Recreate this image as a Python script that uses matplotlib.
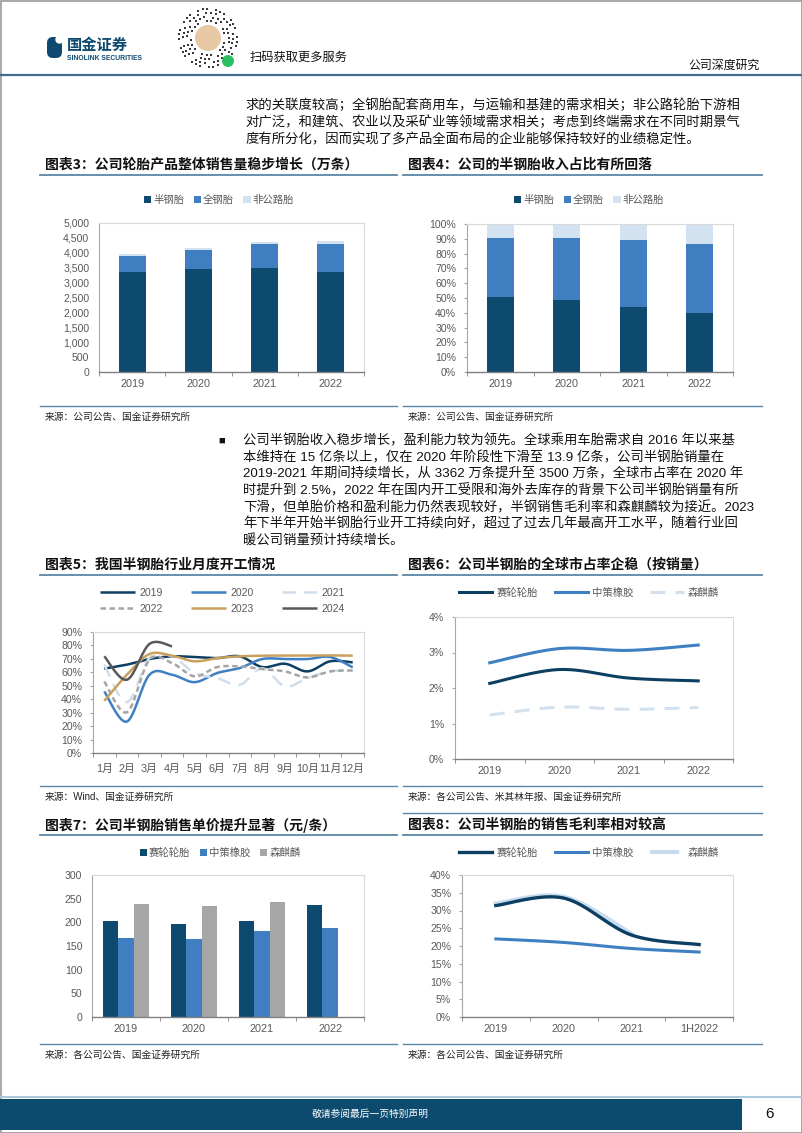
import numpy as np
import matplotlib
matplotlib.use("Agg")
import matplotlib.pyplot as plt
from matplotlib.patches import Rectangle, Circle, FancyBboxPatch
from matplotlib.lines import Line2D
from matplotlib.ticker import FuncFormatter

plt.rcParams['font.family'] = ['Liberation Sans', 'Noto Sans CJK SC', 'DejaVu Sans']

W, H = 802, 1133

NAVY = '#0E4A6F'
BLUE = '#3F7EC1'
LIGHT = '#D3E2F0'
GRAY_TXT = '#595959'
RULE = '#5A87A6'

# 图表3 / 图表4
years = ['2019', '2020', '2021', '2022']
semi_steel_vol = [3362, 3460, 3500, 3350]
all_steel_vol = [540, 640, 790, 950]
offroad_vol = [55, 55, 80, 100]
semi_steel_share = [50.5, 48.8, 44.0, 39.6]
all_steel_share = [40.3, 42.0, 45.2, 47.1]
offroad_share = [9.2, 9.2, 10.8, 13.3]

# 图表5
months = ['1月', '2月', '3月', '4月', '5月', '6月', '7月', '8月', '9月', '10月', '11月', '12月']
util_2019 = [62.7, 65.7, 69.9, 71.9, 71.4, 70.6, 71.9, 63.9, 66.4, 60.7, 68.2, 67.4]
util_2020 = [45.8, 23.4, 58.2, 58.2, 52.7, 59.5, 63.2, 69.9, 69.9, 69.9, 71.4, 63.7]
util_2021 = [65.7, 37.8, 70.6, 71.9, 59.5, 55.7, 50.7, 63.0, 49.5, 55.7, 60.7, 61.5]
util_2022 = [53.2, 30.3, 69.4, 66.9, 57.0, 63.9, 64.4, 62.4, 60.7, 56.2, 60.7, 61.4]
util_2023 = [38.8, 58.2, 73.6, 72.4, 68.2, 70.6, 71.9, 72.4, 72.4, 72.4, 72.6, 72.4]
util_2024 = [71.9, 54.5, 81.1, 79.4]

# 图表6
share_sailun = [2.13, 2.52, 2.28, 2.20]
share_zhongce = [2.71, 3.11, 3.06, 3.21]
share_senqilin = [1.24, 1.46, 1.40, 1.45]

# 图表7
price_sailun = [202, 196, 203, 237]
price_zhongce = [167, 165, 181, 189]
price_senqilin = [238, 234, 243, np.nan]

# 图表8
gm_periods = ['2019', '2020', '2021', '1H2022']
gm_sailun = [31.4, 33.5, 23.1, 20.4]
gm_zhongce = [22.0, 21.0, 19.3, 18.3]
gm_senqilin = [31.9, 33.8, 23.4]

intro_lines = [
    "求的关联度较高；全钢胎配套商用车，与运输和基建的需求相关；非公路轮胎下游相",
    "对广泛，和建筑、农业以及采矿业等领域需求相关；考虑到终端需求在不同时期景气",
    "度有所分化，因而实现了多产品全面布局的企业能够保持较好的业绩稳定性。",
]
bullet_lines = [
    "公司半钢胎收入稳步增长，盈利能力较为领先。全球乘用车胎需求自 2016 年以来基",
    "本维持在 15 亿条以上，仅在 2020 年阶段性下滑至 13.9 亿条，公司半钢胎销量在",
    "2019-2021 年期间持续增长，从 3362 万条提升至 3500 万条，全球市占率在 2020 年",
    "时提升到 2.5%，2022 年在国内开工受限和海外去库存的背景下公司半钢胎销量有所",
    "下滑，但单胎价格和盈利能力仍然表现较好，半钢销售毛利率和森麒麟较为接近。2023",
    "年下半年开始半钢胎行业开工持续向好，超过了过去几年最高开工水平，随着行业回",
    "暖公司销量预计持续增长。",
]


def Smooth(values, steps=24):
    """Catmull-Rom curve through the points, like Excel's smoothed line"""
    y = np.asarray(values, float)
    x = np.arange(len(y), dtype=float)
    px = np.concatenate([[x[0]], x, [x[-1]]])
    py = np.concatenate([[y[0]], y, [y[-1]]])
    t = np.linspace(0, 1, steps)
    xs, ys = [], []
    for i in range(len(y) - 1):
        for p, out in ((px, xs), (py, ys)):
            p0, p1, p2, p3 = p[i:i + 4]
            out.append(0.5 * (2 * p1 + (-p0 + p2) * t + (2 * p0 - 5 * p1 + 4 * p2 - p3) * t ** 2
                              + (-p0 + 3 * p1 - 3 * p2 + p3) * t ** 3))
    return np.concatenate(xs), np.concatenate(ys)


def AddAxes(fig, box):
    l, t, r, b = box
    return fig.add_axes([l / W, 1 - b / H, (r - l) / W, (b - t) / H])


def StyleFrame(ax, labels, ytick_len=0, xpad=5):
    for s in ('top', 'right'):
        ax.spines[s].set_color('#D9D9D9')
        ax.spines[s].set_linewidth(0.8)
    ax.spines['left'].set_color('#A6A6A6')
    ax.spines['left'].set_linewidth(0.8)
    ax.spines['bottom'].set_color('#808080')
    ax.spines['bottom'].set_linewidth(1.0)
    n = len(labels)
    ax.set_xlim(-0.5, n - 0.5)
    ax.set_xticks(range(n))
    ax.set_xticklabels(labels)
    ax.set_xticks(np.arange(-0.5, n), minor=True)
    ax.tick_params(axis='x', which='major', length=0, pad=xpad, labelsize=7.8, colors=GRAY_TXT)
    ax.tick_params(axis='x', which='minor', length=3, color='#808080')
    ax.tick_params(axis='y', length=ytick_len, pad=7 - ytick_len * 0.7, labelsize=7.6,
                   colors=GRAY_TXT, color='#A6A6A6')


def LegendAt(ax, box, cx, cy, handles, labels, **kw):
    l, t, r, b = box
    ax.legend(handles, labels, loc='center', bbox_to_anchor=((cx - l) / (r - l), (b - cy) / (b - t)),
              frameon=False, fontsize=7.5, labelcolor=GRAY_TXT, borderaxespad=0, borderpad=0, **kw)


def ChartFrame(page, x0, x1, title_y, title, src_y, src, top_rule=None):
    page.text(x0 + 5, title_y, title, fontsize=10, fontweight='bold', color='#111111', va='center',
              family=['Noto Sans CJK SC', 'DejaVu Sans'])
    page.plot([x0, x1], [title_y + 10, title_y + 10], color=RULE, lw=1.3)
    page.plot([x0, x1], [src_y - 11, src_y - 11], color=RULE, lw=1.0)
    page.text(x0 + 5, src_y, src, fontsize=7, color='#222222', va='center')
    if top_rule is not None:
        page.plot([x0, x1], [top_rule, top_rule], color=RULE, lw=1.0)


def DrawPage(page):
    page.set_xlim(0, W)
    page.set_ylim(H, 0)
    page.axis('off')
    page.add_patch(Rectangle((0.5, 0.5), W - 1, H - 1, fill=False, ec='#9A9A9A', lw=1.2))
    # header
    page.add_patch(FancyBboxPatch((47, 37), 15, 21, boxstyle='round,pad=0,rounding_size=6',
                                  fc=NAVY, ec='none'))
    page.add_patch(Circle((59.5, 39.5), 4.2, fc='white', ec='none'))
    page.text(67, 46, '国金证券', fontsize=11, fontweight='bold', color=NAVY, va='center')
    page.text(67, 58, 'SINOLINK SECURITIES', fontsize=4.9, fontweight='bold', color=NAVY, va='center')
    for k, r in enumerate([17, 21, 25, 29]):
        n = int(2 * np.pi * r / 4.5)
        ang = np.linspace(0, 2 * np.pi, n, endpoint=False) + k * 0.2
        keep = [(j * 5 + k * 3) % 4 != 0 for j in range(n)]
        page.scatter(208 + r * np.cos(ang[keep]), 38 + r * np.sin(ang[keep]), s=3, marker='s',
                     color='#3A3A3A', lw=0)
    page.add_patch(Circle((208, 38), 13, fc='#E7C7A4', ec='none'))
    page.add_patch(Circle((228, 61), 6, fc='#2DBE60', ec='none'))
    page.text(250, 58, '扫码获取更多服务', fontsize=8.8, color='#111111', va='center')
    page.text(760, 66, '公司深度研究', fontsize=8.6, color='#111111', va='center', ha='right')
    page.plot([0, W], [75, 75], color='#3F6E8E', lw=1.6)
    # body text
    for i, line in enumerate(intro_lines):
        page.text(245, 105 + i * 17.5, line, fontsize=9.6, color='#111111', va='center')
    page.text(218, 441, '■', fontsize=8, color='#111111', va='center')
    for i, line in enumerate(bullet_lines):
        page.text(243, 441 + i * 16.6, line, fontsize=9.6, color='#111111', va='center')
    # chart frames
    ChartFrame(page, 40, 397, 165, '图表3：公司轮胎产品整体销售量稳步增长（万条）', 417, '来源：公司公告、国金证券研究所')
    ChartFrame(page, 403, 762, 165, '图表4：公司的半钢胎收入占比有所回落', 417, '来源：公司公告、国金证券研究所')
    ChartFrame(page, 40, 397, 565, '图表5：我国半钢胎行业月度开工情况', 797, '来源：Wind、国金证券研究所')
    ChartFrame(page, 403, 762, 565, '图表6：公司半钢胎的全球市占率企稳（按销量）', 797, '来源：各公司公告、米其林年报、国金证券研究所')
    ChartFrame(page, 40, 397, 825, '图表7：公司半钢胎销售单价提升显著（元/条）', 1055, '来源：各公司公告、国金证券研究所')
    ChartFrame(page, 403, 762, 825, '图表8：公司半钢胎的销售毛利率相对较高', 1055, '来源：各公司公告、国金证券研究所', top_rule=813)
    # footer
    page.plot([0, W], [1097, 1097], color='#A9C8DC', lw=1.5)
    page.add_patch(Rectangle((0, 1099), 742, 31, fc='#0C4A6E', ec='none'))
    page.text(370, 1114, '敬请参阅最后一页特别声明', fontsize=7, color='white', ha='center', va='center')
    page.text(770, 1114, '6', fontsize=11, color='#111111', ha='center', va='center')


def main():
    fig = plt.figure(figsize=(W / 100, H / 100), dpi=100)
    page = fig.add_axes([0, 0, 1, 1])
    DrawPage(page)
    x = np.arange(len(years))

    # 图表3
    box = (99, 223, 364, 372)
    ax = AddAxes(fig, box)
    b1 = ax.bar(x, semi_steel_vol, 0.41, color=NAVY, zorder=2)
    b2 = ax.bar(x, all_steel_vol, 0.41, bottom=semi_steel_vol, color=BLUE, zorder=2)
    b3 = ax.bar(x, offroad_vol, 0.41, bottom=np.add(semi_steel_vol, all_steel_vol), color=LIGHT, zorder=2)
    ax.set_ylim(0, 5000)
    ax.set_yticks(range(0, 5001, 500))
    ax.yaxis.set_major_formatter(FuncFormatter(lambda v, p: f"{v:,.0f}"))
    StyleFrame(ax, years)
    LegendAt(ax, box, 219, 200, [b1, b2, b3], ['半钢胎', '全钢胎', '非公路胎'], ncol=3,
             handlelength=0.7, handleheight=0.7, handletextpad=0.2, columnspacing=0.9)

    # 图表4
    box = (467, 224, 733, 372)
    ax = AddAxes(fig, box)
    b1 = ax.bar(x, semi_steel_share, 0.4, color=NAVY, zorder=2)
    b2 = ax.bar(x, all_steel_share, 0.4, bottom=semi_steel_share, color=BLUE, zorder=2)
    b3 = ax.bar(x, offroad_share, 0.4, bottom=np.add(semi_steel_share, all_steel_share), color=LIGHT, zorder=2)
    ax.set_ylim(0, 100)
    ax.set_yticks(range(0, 101, 10))
    ax.yaxis.set_major_formatter(FuncFormatter(lambda v, p: f"{v:.0f}%"))
    StyleFrame(ax, years, ytick_len=2.5)
    LegendAt(ax, box, 589, 200, [b1, b2, b3], ['半钢胎', '全钢胎', '非公路胎'], ncol=3,
             handlelength=0.7, handleheight=0.7, handletextpad=0.2, columnspacing=0.9)

    # 图表5
    box = (93, 632, 364, 753)
    ax = AddAxes(fig, box)
    series = [
        ('2019', util_2019, '#0D3F62', '-'),
        ('2020', util_2020, '#3F7FC3', '-'),
        ('2021', util_2021, '#D0DEEC', (0, (5.3, 3.3))),
        ('2022', util_2022, '#A5A5A5', (0, (2.2, 1.4))),
        ('2023', util_2023, '#C9A15F', '-'),
        ('2024', util_2024, '#595959', '-'),
    ]
    handles = {}
    for name, vals, col, ls in series:
        sx, sy = Smooth(vals)
        handles[name], = ax.plot(sx, sy, color=col, lw=1.8, ls=ls, solid_capstyle='butt', zorder=2)
    ax.set_ylim(0, 90)
    ax.set_yticks(range(0, 91, 10))
    ax.yaxis.set_major_formatter(FuncFormatter(lambda v, p: f"{v:.0f}%"))
    StyleFrame(ax, months, ytick_len=2.5, xpad=8)
    order = ['2019', '2022', '2020', '2023', '2021', '2024']
    LegendAt(ax, box, 222, 601, [handles[k] for k in order], order, ncol=3,
             handlelength=3.4, handletextpad=0.4, columnspacing=2.7, labelspacing=0.6)

    # 图表6
    box = (455, 617, 733, 759)
    ax = AddAxes(fig, box)
    h = []
    for vals, col, ls in [(share_sailun, '#0D3F62', '-'), (share_zhongce, '#3F7FC3', '-'),
                          (share_senqilin, '#D3E0EE', (0, (4.9, 3.3)))]:
        sx, sy = Smooth(vals)
        h.append(ax.plot(sx, sy, color=col, lw=2.2, ls=ls, zorder=2)[0])
    ax.set_ylim(0, 4)
    ax.set_yticks(range(0, 5))
    ax.yaxis.set_major_formatter(FuncFormatter(lambda v, p: f"{v:.0f}%"))
    StyleFrame(ax, years, ytick_len=2.5)
    LegendAt(ax, box, 589, 593, h, ['赛轮轮胎', '中策橡胶', '森麒麟'], ncol=3,
             handlelength=3.2, handletextpad=0.4, columnspacing=1.6)

    # 图表7
    box = (92, 875, 364, 1017)
    ax = AddAxes(fig, box)
    bw = 0.225
    b1 = ax.bar(x - bw, price_sailun, bw, color=NAVY, zorder=2)
    b2 = ax.bar(x, price_zhongce, bw, color=BLUE, zorder=2)
    b3 = ax.bar(x + bw, price_senqilin, bw, color='#A6A6A6', zorder=2)
    ax.set_ylim(0, 300)
    ax.set_yticks(range(0, 301, 50))
    StyleFrame(ax, years)
    LegendAt(ax, box, 220, 853, [b1, b2, b3], ['赛轮轮胎', '中策橡胶', '森麒麟'], ncol=3,
             handlelength=0.7, handleheight=0.7, handletextpad=0.2, columnspacing=0.9)

    # 图表8
    box = (462, 875, 733, 1017)
    ax = AddAxes(fig, box)
    sx, sy = Smooth(gm_senqilin)
    hs, = ax.plot(sx, sy, color='#C9DCEE', lw=3.4, zorder=2)
    sx, sy = Smooth(gm_zhongce)
    hz, = ax.plot(sx, sy, color='#3F7FC3', lw=2.2, zorder=3)
    sx, sy = Smooth(gm_sailun)
    ha, = ax.plot(sx, sy, color='#0D3F62', lw=2.4, zorder=4)
    hs_leg = Line2D([], [], color='#C9DCEE', lw=3.0, ls=(0, (7, 1.5, 2, 1.5)))
    ax.set_ylim(0, 40)
    ax.set_yticks(range(0, 41, 5))
    ax.yaxis.set_major_formatter(FuncFormatter(lambda v, p: f"{v:.0f}%"))
    StyleFrame(ax, gm_periods, ytick_len=2.5)
    LegendAt(ax, box, 589, 853, [ha, hz, hs_leg], ['赛轮轮胎', '中策橡胶', '森麒麟'], ncol=3,
             handlelength=3.2, handletextpad=0.4, columnspacing=1.6)

    fig.savefig('out.png', dpi=100)


if __name__ == "__main__":
    main()
